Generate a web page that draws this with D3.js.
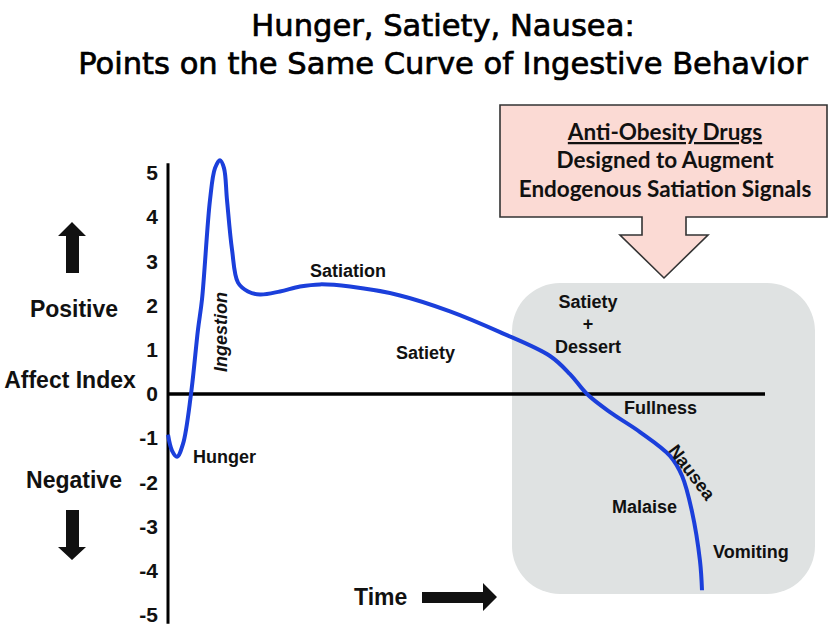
<!DOCTYPE html>
<html>
<head>
<meta charset="utf-8">
<script src="https://cdn.jsdelivr.net/npm/d3@7"></script>
<style>
  html, body { margin: 0; padding: 0; background: #fff; }
  svg { display: block; }
</style>
</head>
<body>
<svg id="chart" width="829" height="627"></svg>
<script>
// ---- Data ----
const titleLines = ["Hunger, Satiety, Nausea:", "Points on the Same Curve of Ingestive Behavior"];
const yTicks = [5, 4, 3, 2, 1, 0, -1, -2, -3, -4, -5];
const curveTime = [0, 4, 9, 15, 23, 30, 34, 42, 47, 52, 56, 59, 64, 70, 80, 92, 112, 132, 152, 182, 232, 282, 332, 382, 402, 419, 442, 472, 502, 514, 524, 532, 534];
const curveValue = [-0.92, -1.28, -1.42, -1.13, 0, 1.46, 2.14, 4.39, 5.11, 5.29, 5.11, 4.39, 3.27, 2.52, 2.32, 2.25, 2.32, 2.43, 2.48, 2.43, 2.23, 1.87, 1.40, 0.86, 0.45, 0, -0.41, -0.86, -1.40, -1.85, -2.66, -3.78, -4.44];
const calloutLines = ["Anti-Obesity Drugs", "Designed to Augment", "Endogenous Satiation Signals"];
const sideLabels = ["Positive", "Affect Index", "Negative"];

const svg = d3.select("#chart");
const bold = "'Liberation Sans', Arial, sans-serif";

const x = d3.scaleLinear().domain([0, 600]).range([168, 768]);
const y = d3.scaleLinear().domain([-5, 5]).range([615, 173]);

// Title
svg.selectAll("text.title").data(titleLines).join("text")
  .attr("class", "title")
  .attr("x", 443).attr("y", (d, i) => 36 + i * 38)
  .attr("text-anchor", "middle")
  .style("font-family", "'DejaVu Sans', sans-serif")
  .style("font-size", "27px")
  .attr("fill", "#000").attr("stroke", "#000").attr("stroke-width", 0.7)
  .text(d => d)
  .each(function(d, i) {
    if (i === 1) {
      const w = this.getComputedTextLength();
      const fs = 27 * 730 / w;
      d3.selectAll("text.title").style("font-size", fs + "px");
    }
  });

// Gray box
svg.append("rect")
  .attr("x", 512).attr("y", 283).attr("width", 303).attr("height", 311)
  .attr("rx", 48).attr("ry", 48)
  .attr("fill", "#dfe2e2");

// Callout
svg.append("path")
  .attr("d", "M500,105 H827 V217 H686 V235 H708 L664,278 L620,235 H642 V217 H500 Z")
  .attr("fill", "#fbdad4").attr("stroke", "#333").attr("stroke-width", 1.6);
svg.selectAll("text.callout").data(calloutLines).join("text")
  .attr("class", "callout")
  .attr("x", 665).attr("y", (d, i) => [140, 168, 197][i])
  .attr("text-anchor", "middle")
  .style("font-family", "Lato, sans-serif").style("font-weight", "bold")
  .style("font-size", "22.5px").attr("fill", "#111")
  .style("text-decoration", (d, i) => i === 0 ? "underline" : null)
  .text(d => d);

// Y axis line and zero line
svg.append("line")
  .attr("x1", x(0)).attr("x2", x(0)).attr("y1", y(5.22)).attr("y2", y(-5.2))
  .attr("stroke", "#000").attr("stroke-width", 3);
svg.append("line")
  .attr("x1", x(0)).attr("x2", x(597)).attr("y1", y(0)).attr("y2", y(0))
  .attr("stroke", "#000").attr("stroke-width", 3.5);

// Tick labels
const axis = d3.axisLeft(y).tickValues(yTicks).tickSize(0).tickPadding(0).tickFormat(d => String(d));
const ag = svg.append("g").attr("transform", "translate(158,0)").call(axis);
ag.select(".domain").remove();
ag.selectAll("text")
  .style("font-family", bold).style("font-weight", "bold").style("font-size", "21px").attr("fill", "#111");

// Curve
const pts = curveTime.map((t, i) => [t, curveValue[i]]);
svg.append("path")
  .datum(pts)
  .attr("d", d3.line().x(d => x(d[0])).y(d => y(d[1])).curve(d3.curveCatmullRom.alpha(0.5)))
  .attr("fill", "none").attr("stroke", "#1b3fdb").attr("stroke-width", 4).attr("stroke-linecap", "butt");

// Side labels
svg.selectAll("text.side").data(sideLabels).join("text")
  .attr("class", "side")
  .attr("x", (d, i) => [74, 70, 74][i]).attr("y", (d, i) => [317, 388, 488][i])
  .attr("text-anchor", "middle")
  .style("font-family", bold).style("font-weight", "bold").style("font-size", "23px").attr("fill", "#111")
  .text(d => d);

// Up / down arrows
svg.append("path").attr("d", "M72,222 L86,236 L79,236 L79,273 L66,273 L66,236 L58,236 Z").attr("fill", "#111");
svg.append("path").attr("d", "M72,560 L86,547 L79,547 L79,510 L66,510 L66,547 L58,547 Z").attr("fill", "#111");

// Time arrow
svg.append("text").attr("x", 354).attr("y", 605)
  .style("font-family", bold).style("font-weight", "bold").style("font-size", "23px").attr("fill", "#111")
  .text("Time");
svg.append("path").attr("d", "M422,592 L483,592 L483,583 L497,597 L483,611 L483,603 L422,603 Z").attr("fill", "#111");

// Curve labels
const labels = [
  { t: "Hunger", x: 193, y: 463, a: "start" },
  { t: "Satiation", x: 310, y: 277, a: "start" },
  { t: "Satiety", x: 396, y: 359, a: "start" },
  { t: "Satiety", x: 588, y: 308, a: "middle" },
  { t: "+", x: 588, y: 330, a: "middle" },
  { t: "Dessert", x: 588, y: 353, a: "middle" },
  { t: "Fullness", x: 624, y: 414, a: "start" },
  { t: "Malaise", x: 612, y: 513, a: "start" },
  { t: "Vomiting", x: 713, y: 558, a: "start" }
];
svg.selectAll("text.lbl").data(labels).join("text")
  .attr("class", "lbl")
  .attr("x", d => d.x).attr("y", d => d.y).attr("text-anchor", d => d.a)
  .style("font-family", bold).style("font-weight", "bold").style("font-size", "18px").attr("fill", "#111")
  .text(d => d.t);

svg.append("text")
  .attr("transform", "translate(227,332) rotate(-90)")
  .attr("text-anchor", "middle")
  .style("font-family", bold).style("font-weight", "bold").style("font-style", "italic").style("font-size", "18px").attr("fill", "#111")
  .text("Ingestion");

svg.append("text")
  .attr("transform", "translate(687,476) rotate(53)")
  .attr("text-anchor", "middle")
  .style("font-family", bold).style("font-weight", "bold").style("font-size", "18px").attr("fill", "#111")
  .text("Nausea");
</script>
</body>
</html>
